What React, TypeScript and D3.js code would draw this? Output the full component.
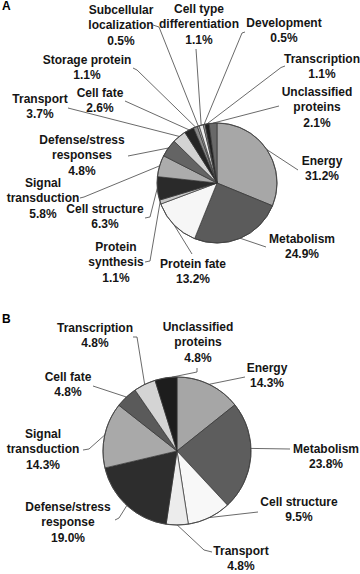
import React, { useEffect, useRef } from "react";
import * as d3 from "d3";

// ---- Panel A data ----
const categoriesA = [
	"Energy",
	"Metabolism",
	"Protein fate",
	"Protein\nsynthesis",
	"Cell structure",
	"Signal\ntransduction",
	"Defense/stress\nresponses",
	"Transport",
	"Cell fate",
	"Storage protein",
	"Subcellular\nlocalization",
	"Cell type\ndifferentiation",
	"Development",
	"Transcription",
	"Unclassified\nproteins",
];
const valuesA = [31.2, 24.9, 13.2, 1.1, 6.3, 5.8, 4.8, 3.7, 2.6, 1.1, 0.5, 1.1, 0.5, 1.1, 2.1];

// ---- Panel B data ----
const categoriesB = [
	"Energy",
	"Metabolism",
	"Cell structure",
	"Transport",
	"Defense/stress\nresponse",
	"Signal\ntransduction",
	"Cell fate",
	"Transcription",
	"Unclassified\nproteins",
];
const valuesB = [14.3, 23.8, 9.5, 4.8, 19.0, 14.3, 4.8, 4.8, 4.8];

// ---- styling / layout ----
const shadesA = ["#a7a7a7", "#5b5b5b", "#f6f6f6", "#c6c6c6", "#2a2a2a", "#acacac", "#646464", "#d3d3d3", "#252525", "#8a8a8a", "#bdbdbd", "#ededed", "#9a9a9a", "#202020", "#686868"];
const shadesB = ["#a6a6a6", "#5d5d5d", "#f8f8f8", "#ececec", "#2d2d2d", "#a9a9a9", "#5a5a5a", "#d4d4d4", "#1d1d1d"];

// label anchor: [center x, first baseline]
const labelPosA = [[322, 165], [302, 243], [193, 268], [116, 251], [105, 213], [43, 187], [82, 144], [40, 103], [100, 97], [87, 64], [121, 14], [199, 13], [284, 27], [322, 63], [317, 96]];
const labelPosB = [[267, 372], [326, 453], [299, 506], [241, 555], [68, 511], [43, 438], [68, 381], [95, 332], [198, 331]];

// leader line start points (the last one joins the pie rim)
const leaderA = [
	[[298, 170]], [[266, 247]], [[192, 254]], [[145, 262], [150, 261]], [[145, 218], [150, 217]],
	[[80, 198], [84, 197]], [[128, 156]], [[68, 108]], [[125, 101]], [[133, 68], [137, 70]],
	[[153, 25], [159, 27]], [[196, 49]], [[245, 32], [242, 33]], [[285, 66], [281, 67.5]], [[279, 106]],
];
const leaderB = [
	[[245, 377]], [[290, 449]], [[258, 512]], [[212, 552], [204, 550]], [[115, 520], [119, 518]],
	[[83, 450], [89, 449]], [[93, 386]], [[133, 337], [137, 337]], [[197, 368], [197, 372]],
];
// rim angle overrides (degrees), otherwise slice mid-angle
const rimAngleB: Record<number, number> = { 1: 88, 8: 356 };

const font = "'Liberation Sans', Arial, sans-serif";

function drawPie(
	svg: d3.Selection<SVGSVGElement, unknown, null, undefined>,
	cats: string[],
	vals: number[],
	shades: string[],
	labelPos: number[][],
	leaders: number[][][],
	cx: number,
	cy: number,
	r: number,
	rimAngle: Record<number, number> = {}
) {
	const pie = d3.pie<number>().sort(null).value(d => d)(vals);
	const arc = d3.arc<d3.PieArcDatum<number>>().innerRadius(0).outerRadius(r);
	const g = svg.append("g").attr("transform", `translate(${cx},${cy})`);

	g.selectAll("path")
		.data(pie)
		.enter()
		.append("path")
		.attr("d", arc)
		.attr("fill", (_, i) => shades[i])
		.attr("stroke", "#333")
		.attr("stroke-width", 0.7);

	g.append("circle").attr("r", r).attr("fill", "none").attr("stroke", "#444").attr("stroke-width", 0.9);

	// Leaders
	pie.forEach((p, i) => {
		const a = rimAngle[i] !== undefined ? (rimAngle[i] * Math.PI) / 180 : (p.startAngle + p.endAngle) / 2;
		const rim: [number, number] = [cx + r * Math.sin(a), cy - r * Math.cos(a)];
		const pts = [...leaders[i].map(d => [d[0], d[1]] as [number, number]), rim];
		svg.append("path")
			.attr("d", d3.line()(pts))
			.attr("fill", "none")
			.attr("stroke", "#444")
			.attr("stroke-width", 0.8);
	});

	// Labels
	pie.forEach((p, i) => {
		const lines = [...cats[i].split("\n"), `${vals[i].toFixed(1)}%`];
		const t = svg.append("text")
			.attr("x", labelPos[i][0])
			.attr("y", labelPos[i][1])
			.attr("text-anchor", "middle")
			.attr("font-family", font)
			.attr("font-weight", "bold")
			.attr("font-size", 12)
			.attr("fill", "#151515");
		lines.forEach((l, j) => {
			t.append("tspan").attr("x", labelPos[i][0]).attr("dy", j === 0 ? 0 : 15.3).text(l);
		});
	});
}

export default function App() {
	const ref = useRef<SVGSVGElement>(null);

	useEffect(() => {
		const w = 360;
		const h = 574;
		const svg = d3.select(ref.current!).attr("width", w).attr("height", h);
		svg.selectAll("*").remove();
		svg.append("rect").attr("width", w).attr("height", h).attr("fill", "#fff");

		// Panel letters
		svg.append("text").attr("x", 2).attr("y", 10).attr("font-family", font).attr("font-weight", "bold").attr("font-size", 12).text("A");
		svg.append("text").attr("x", 2).attr("y", 323).attr("font-family", font).attr("font-weight", "bold").attr("font-size", 12).text("B");

		drawPie(svg, categoriesA, valuesA, shadesA, labelPosA, leaderA, 217, 183, 60);
		drawPie(svg, categoriesB, valuesB, shadesB, labelPosB, leaderB, 177, 451, 74, rimAngleB);
	}, []);

	return <svg ref={ref} style={{ position: "absolute", left: 0, top: 0, display: "block" }} />;
}
